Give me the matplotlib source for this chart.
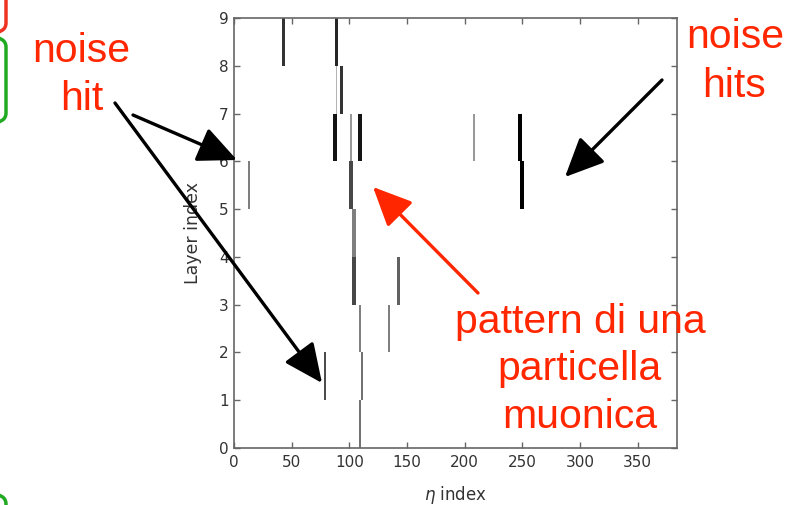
import matplotlib
matplotlib.use('Agg')
import matplotlib.pyplot as plt
from matplotlib.patches import FancyArrowPatch, FancyBboxPatch

# hits: layer (bottom of segment), eta strip, strips wide, signal level (0..1)
hit_layer = [8, 8, 7, 7, 6, 6, 6, 6, 6, 5, 5, 5, 4, 3, 3, 2, 2, 1, 1, 0]
hit_eta = [43, 89, 88.7, 93, 87.3, 101.2, 109.5, 208, 247.6, 12.7, 101.3, 249.3,
           104.4, 104, 142.5, 109.3, 134.3, 78.5, 110.8, 109.3]
hit_width = [2.5, 2.5, 1, 2.5, 3.5, 1.5, 3.5, 1.5, 3.5, 1.5, 3.5, 3.5,
             3.5, 3.5, 2, 1.8, 1.3, 1.8, 1.8, 1.8]
hit_level = [0.8, 0.85, 0.3, 0.8, 0.92, 0.4, 0.92, 0.4, 1.0, 0.5, 0.72, 1.0,
             0.5, 0.72, 0.62, 0.5, 0.5, 0.7, 0.55, 0.55]

x_ticks = [0, 50, 100, 150, 200, 250, 300, 350]
y_ticks = list(range(10))

W, H = 802, 505
RED = '#ff2600'

fig = plt.figure(figsize=(W / 100, H / 100), dpi=100)
ax = fig.add_axes([234 / W, 1 - 448 / H, (677 - 234) / W, (448 - 18) / H])

colors = [plt.cm.gray_r(v) for v in hit_level]
ax.bar(hit_eta, 1, width=hit_width, bottom=hit_layer, color=colors,
       align='center', linewidth=0)

ax.set_xlim(0, 384)
ax.set_ylim(0, 9)
ax.set_xticks(x_ticks)
ax.set_yticks(y_ticks)
for s in ax.spines.values():
    s.set_color('#666666')
    s.set_linewidth(1.2)
ax.tick_params(direction='in', top=True, right=True, length=4, width=1,
               color='#666666', labelsize=11, labelcolor='#333333')
ax.tick_params(axis='x', pad=5)
ax.tick_params(axis='y', pad=4)
ax.set_xlabel(r'$\eta$ index', fontsize=12, color='#333333', labelpad=10)
ax.set_ylabel('Layer index', fontsize=12.5, color='#333333', labelpad=12)


def fpos(x, y):
    return (x / W, 1 - y / H)


def label(x, y, s):
    fig.text(*fpos(x, y), s, color=RED, fontsize=29.5, family='Liberation Sans',
             ha='center', va='baseline')


label(81, 62, 'noise')
label(82, 110, 'hit')
label(735, 48, 'noise')
label(734, 97, 'hits')
label(580, 333, 'pattern di una')
label(580, 380, 'particella')
label(580, 428, 'muonica')


def arrow(tail, tip, color):
    a = FancyArrowPatch(fpos(*tail), fpos(*tip), transform=fig.transFigure,
                        arrowstyle='-|>,head_length=1.2,head_width=0.55',
                        mutation_scale=20, color=color, lw=2.4,
                        shrinkA=0, shrinkB=0)
    fig.add_artist(a)


arrow((115, 103), (322, 383), 'black')
arrow((133, 115), (237, 160), 'black')
arrow((662, 80), (565, 177), 'black')
arrow((478, 293), (373, 187), RED)

# slide decorations cut by the left edge
for y0, y1, c in [(-40, 33, '#ee3322'), (37, 123, '#22aa22'), (494, 560, '#22aa22')]:
    p = FancyBboxPatch(fpos(-60, y1), 66 / W, (y1 - y0) / H,
                       boxstyle='round,pad=0,rounding_size=0.02',
                       transform=fig.transFigure, fill=False,
                       edgecolor=c, lw=2.5)
    fig.add_artist(p)

fig.savefig('out.png', dpi=100)
